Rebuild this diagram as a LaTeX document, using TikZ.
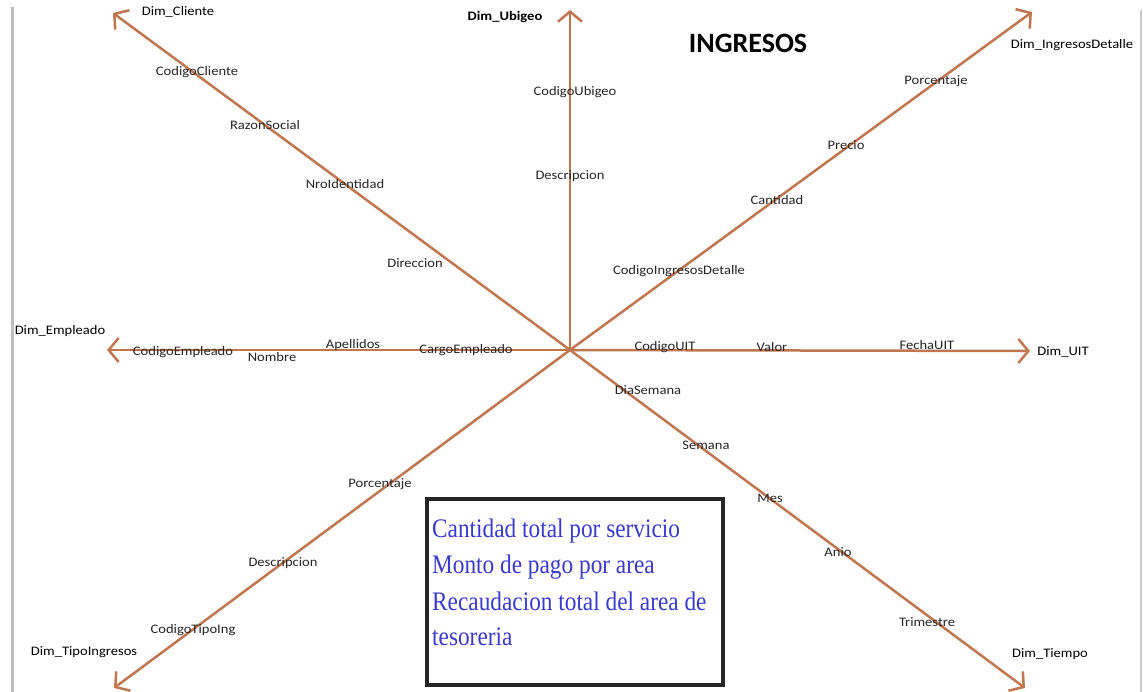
\documentclass[tikz,border=0pt]{standalone}
\usepackage{fontspec}
\setmainfont{Carlito}
\newfontfamily\boxfont{Liberation Serif}
\usetikzlibrary{arrows.meta}
\definecolor{axisbrown}{RGB}{192,118,78}
\definecolor{noteblue}{RGB}{58,58,205}
\definecolor{edgegray}{RGB}{190,190,190}
\begin{document}
\begin{tikzpicture}[x=1pt,y=-1pt,
  axis/.style={draw=axisbrown,line width=2.5pt,
    -{Straight Barb[length=10pt,width=24pt,line width=2.5pt]}},
  attr/.style={font=\fontsize{13}{15}\selectfont,inner sep=0pt,text=black!85,xscale=1.12},
  dimlbl/.style={font=\fontsize{13}{15}\selectfont,inner sep=0pt,text=black,xscale=1.12},
  noteline/.style={font=\boxfont\fontsize{23.3}{36}\selectfont,text=noteblue,
    inner sep=0pt,anchor=base west,yscale=1.15}]
\useasboundingbox (0,0) rectangle (1143,692);
\fill[white] (0,0) rectangle (1143,692);
% page edges
\draw[edgegray,line width=3pt] (12,7) -- (12,692);
\draw[edgegray!80,line width=2pt] (1141,10) -- (1141,692);

% centre of the star and axis end points
\coordinate (c) at (570,350);
\coordinate (eCli) at (113,13);
\coordinate (eUbi) at (570,10);
\coordinate (eIng) at (1032,12);
\coordinate (eEmp) at (107,350);
\coordinate (eUIT) at (1030,351);
\coordinate (eTip) at (114,688);
\coordinate (eTie) at (1025,688);

\draw[axis] (c) -- (eCli);
\draw[axis] (c) -- (eUbi);
\draw[axis] (c) -- (eIng);
\draw[axis] (c) -- (eEmp);
\draw[axis] (c) -- (eUIT);
\draw[axis] (c) -- (eTip);
\draw[axis] (c) -- (eTie);

% title
\node[font=\bfseries\fontsize{28}{30}\selectfont,inner sep=0pt] (title) at (748,43) {INGRESOS};

% Dim_Cliente
\node[dimlbl] (dCli) at (178,12) {Dim\_Cliente};
\node[attr] (aCli1) at (197,72) {CodigoCliente};
\node[attr] (aCli2) at (265,125) {RazonSocial};
\node[attr] (aCli3) at (345,184) {NroIdentidad};
\node[attr] (aCli4) at (415,263) {Direccion};

% Dim_Ubigeo
\node[dimlbl,font=\bfseries\fontsize{13}{15}\selectfont,xscale=1.0] (dUbi) at (505,17) {Dim\_Ubigeo};
\node[attr] (aUbi1) at (575,92) {CodigoUbigeo};
\node[attr] (aUbi2) at (570,176) {Descripcion};

% Dim_IngresosDetalle
\node[dimlbl] (dIng) at (1072,45) {Dim\_IngresosDetalle};
\node[attr] (aIng1) at (936,81) {Porcentaje};
\node[attr] (aIng2) at (846,145) {Precio};
\node[attr] (aIng3) at (777,200) {Cantidad};
\node[attr] (aIng4) at (679,271) {CodigoIngresosDetalle};

% Dim_Empleado
\node[dimlbl] (dEmp) at (60,331) {Dim\_Empleado};
\node[attr] (aEmp1) at (183,352) {CodigoEmpleado};
\node[attr] (aEmp2) at (272,357) {Nombre};
\node[attr] (aEmp3) at (353,345) {Apellidos};
\node[attr] (aEmp4) at (466,350) {CargoEmpleado};

% Dim_UIT
\node[dimlbl] (dUIT) at (1063,352) {Dim\_UIT};
\node[attr] (aUIT1) at (665,347) {CodigoUIT};
\node[attr] (aUIT2) at (772,347) {Valor};
\node[attr] (aUIT3) at (927,345) {FechaUIT};

% Dim_TipoIngresos
\node[dimlbl] (dTip) at (84,652) {Dim\_TipoIngresos};
\node[attr] (aTip1) at (380,484) {Porcentaje};
\node[attr] (aTip2) at (283,563) {Descripcion};
\node[attr] (aTip3) at (193,630) {CodigoTipoIng};

% Dim_Tiempo
\node[dimlbl] (dTie) at (1050,654) {Dim\_Tiempo};
\node[attr] (aTie1) at (648,390) {DiaSemana};
\node[attr] (aTie2) at (706,445) {Semana};
\node[attr] (aTie3) at (770,498) {Mes};
\node[attr] (aTie4) at (838,552) {Anio};
\node[attr] (aTie5) at (927,622) {Trimestre};

% measures box
\draw[black!85,line width=3.5pt,fill=white] (427,499) rectangle (723,685);
\node[noteline] (m1) at (432,537) {Cantidad total por servicio};
\node[noteline] (m2) at (432,573) {Monto de pago por area};
\node[noteline] (m3) at (432,610) {Recaudacion total del area de};
\node[noteline] (m4) at (432,645) {tesoreria};
\end{tikzpicture}
\end{document}
